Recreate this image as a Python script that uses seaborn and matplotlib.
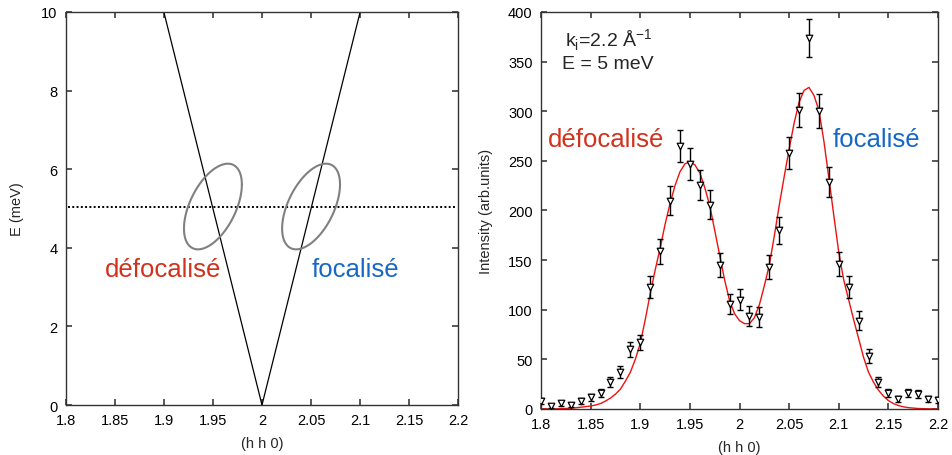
import numpy as np
import pandas as pd
import matplotlib
matplotlib.use("Agg")
import matplotlib.pyplot as plt
from matplotlib.ticker import MultipleLocator, FormatStrFormatter
import seaborn as sns

# -----------------------------
# Data
# -----------------------------
# left panel: dispersion cone, constant-E cut, resolution ellipses
cone_q = [1.9, 2.0, 2.1]
cone_E = [10.0, 0.0, 10.0]
E_cut = 5.05
ellipse_q = [1.95, 2.05]
ellipse_E = [5.05, 5.05]
ellipse_dq = 0.0295      # half-width along (h h 0)
ellipse_dE = 1.09        # half-height along E
ellipse_phase = 1.03     # tilt expressed as a phase shift (radians)

# right panel: measured scan
scan_q = [1.80, 1.81, 1.82, 1.83, 1.84, 1.85, 1.86, 1.87, 1.88, 1.89,
          1.90, 1.91, 1.92, 1.93, 1.94, 1.95, 1.96, 1.97, 1.98, 1.99,
          2.00, 2.01, 2.02, 2.03, 2.04, 2.05, 2.06, 2.07, 2.08, 2.09,
          2.10, 2.11, 2.12, 2.13, 2.14, 2.15, 2.16, 2.17, 2.18, 2.19, 2.20]
scan_I = [8, 3, 6, 4.5, 8.5, 12, 16, 27, 37.5, 60,
          67, 123, 159, 210, 265, 247, 226, 206, 145, 106,
          110, 94, 93, 143, 180, 258, 301, 374, 300, 229,
          146, 123, 89, 53, 27, 16, 10.5, 16, 15, 10, 9]
scan_err = [3, 2, 2.5, 2, 3, 3.5, 4, 5, 6, 8,
            8, 11, 12.5, 14.5, 16, 16, 15, 14.5, 12, 10,
            10.5, 10, 10, 12, 13.5, 16, 17, 19, 17, 15,
            12, 11, 9.5, 7, 5, 4, 3, 4, 4, 3, 3]

fit_q = [1.800, 1.805, 1.810, 1.815, 1.820, 1.825, 1.830, 1.835, 1.840, 1.845,
         1.850, 1.855, 1.860, 1.865, 1.870, 1.875, 1.880, 1.885, 1.890, 1.895,
         1.900, 1.905, 1.910, 1.915, 1.920, 1.925, 1.930, 1.935, 1.940, 1.945,
         1.950, 1.955, 1.960, 1.965, 1.970, 1.975, 1.980, 1.985, 1.990, 1.995,
         2.000, 2.005, 2.010, 2.015, 2.020, 2.025, 2.030, 2.035, 2.040, 2.045,
         2.050, 2.055, 2.060, 2.065, 2.070, 2.075, 2.080, 2.085, 2.090, 2.095,
         2.100, 2.105, 2.110, 2.115, 2.120, 2.125, 2.130, 2.135, 2.140, 2.145,
         2.150, 2.155, 2.160, 2.165, 2.170, 2.175, 2.180, 2.185, 2.190, 2.195,
         2.200]
fit_I = [0, 0, 0.1, 0.2, 0.3, 0.5, 0.8, 1.2, 1.8, 2.4,
         3, 4, 5.5, 8, 11, 15, 20, 28, 37, 50,
         66, 90, 116, 140, 162, 186, 207, 225, 239, 247,
         249, 246, 238, 223, 205, 180, 155, 130, 109, 96,
         89, 86, 86, 92, 105, 124, 145, 174, 205, 234,
         262, 288, 309, 321, 324, 316, 301, 270, 233, 195,
         158, 130, 110, 90, 71, 52, 37, 27, 19, 13,
         8.5, 5.5, 3.5, 2.2, 1.4, 0.9, 0.5, 0.3, 0.2, 0.1,
         0.05]

labels = ["défocalisé", "focalisé"]
label_colors = ["#d0321c", "#1768c4"]

# -----------------------------
# Style
# -----------------------------
sns.set_theme(style="ticks")
plt.rcParams["font.family"] = ["Liberation Sans", "DejaVu Sans"]
plt.rcParams.update({
    "axes.edgecolor": "#333333",
    "axes.linewidth": 1.0,
    "xtick.direction": "in",
    "ytick.direction": "in",
    "xtick.top": True,
    "ytick.right": True,
    "xtick.major.size": 4,
    "ytick.major.size": 4,
    "xtick.color": "#444444",
    "ytick.color": "#444444",
    "xtick.labelcolor": "black",
    "ytick.labelcolor": "black",
    "xtick.labelsize": 10.5,
    "ytick.labelsize": 10.5,
    "axes.labelsize": 10.5,
})

fig = plt.figure(figsize=(9.52, 4.56), dpi=100)
ax1 = fig.add_axes([0.069, 0.1096, 0.4124, 0.862])
ax2 = fig.add_axes([0.5683, 0.1009, 0.417, 0.8706])

# -----------------------------
# Left panel
# -----------------------------
cone = pd.DataFrame({"q": cone_q, "E": cone_E})
sns.lineplot(data=cone, x="q", y="E", sort=False, estimator=None,
             color="black", lw=0.9, ax=ax1)
ax1.axhline(E_cut, xmin=0.005, xmax=0.993, color="black", lw=1.4, ls=(0, (1, 1.2)))

t = np.linspace(0, 2 * np.pi, 200)
for qc, ec in zip(ellipse_q, ellipse_E):
    ell = pd.DataFrame({"q": qc + ellipse_dq * np.cos(t),
                        "E": ec + ellipse_dE * np.cos(t + ellipse_phase)})
    sns.lineplot(data=ell, x="q", y="E", sort=False, estimator=None,
                 color="#808080", lw=1.5, ax=ax1)

ax1.text(1.840, 3.28, labels[0], color=label_colors[0], fontsize=18.5, va="baseline")
ax1.text(2.051, 3.28, labels[1], color=label_colors[1], fontsize=18.5, va="baseline")

ax1.set_xlim(1.8, 2.2)
ax1.set_ylim(0, 10)
ax1.xaxis.set_major_locator(MultipleLocator(0.05))
ax1.yaxis.set_major_locator(MultipleLocator(2))
ax1.xaxis.set_major_formatter(FormatStrFormatter("%g"))
ax1.yaxis.set_major_formatter(FormatStrFormatter("%g"))
ax1.set_xlabel("(h h 0)", labelpad=6)
ax1.set_ylabel("E (meV)", labelpad=12)
ax1.tick_params(pad=6)

# -----------------------------
# Right panel
# -----------------------------
fit = pd.DataFrame({"q": fit_q, "I": fit_I})
sns.lineplot(data=fit, x="q", y="I", color="#ee1111", lw=1.0, ax=ax2)

ax2.errorbar(scan_q, scan_I, yerr=scan_err, fmt="none", ecolor="black",
             elinewidth=1.0, capsize=2, capthick=1.0)
scan = pd.DataFrame({"q": scan_q, "I": scan_I})
sns.scatterplot(data=scan, x="q", y="I", marker="v", s=22, facecolor="white",
                edgecolor="black", linewidth=0.9, ax=ax2, zorder=3)

ax2.text(1.824, 365.7, "k$_\\mathregular{i}$=2.2 Å$^\\mathregular{-1}$", fontsize=14, va="baseline")
ax2.text(1.821, 343.6, "E = 5 meV", fontsize=14, va="baseline")
ax2.text(1.807, 265, labels[0], color=label_colors[0], fontsize=18.5, va="baseline")
ax2.text(2.094, 265, labels[1], color=label_colors[1], fontsize=18.5, va="baseline")

ax2.set_xlim(1.8, 2.2)
ax2.set_ylim(0, 400)
ax2.xaxis.set_major_locator(MultipleLocator(0.05))
ax2.yaxis.set_major_locator(MultipleLocator(50))
ax2.xaxis.set_major_formatter(FormatStrFormatter("%g"))
ax2.yaxis.set_major_formatter(FormatStrFormatter("%g"))
ax2.set_xlabel("(h h 0)", labelpad=6)
ax2.set_ylabel("Intensity (arb.units)", labelpad=11)
ax2.tick_params(pad=6)

fig.savefig("out.png", dpi=100)
